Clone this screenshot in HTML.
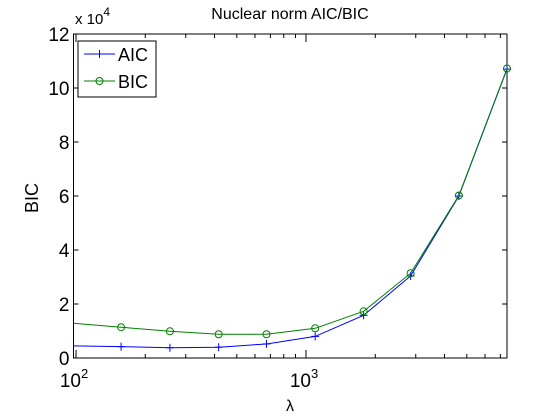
<!DOCTYPE html>
<html><head><meta charset="utf-8"><style>
body{margin:0;background:#fff;}
svg{display:block;font-family:"Liberation Sans",sans-serif;}
</style></head><body>
<svg id="chart" width="559" height="419" xmlns="http://www.w3.org/2000/svg">
<defs><clipPath id="clip"><rect x="73.5" y="20" width="450" height="340"/></clipPath></defs>
<rect width="559" height="419" fill="#fff"/>
<text x="290" y="19" font-size="16" text-anchor="middle">Nuclear norm AIC/BIC</text>
<text x="0" y="0" font-size="18" text-anchor="middle" transform="translate(38,198) rotate(-90)">BIC</text>
<text x="290" y="411" font-size="16" text-anchor="middle">λ</text>
<text x="75" y="24" font-size="15">x 10<tspan dy="-8" font-size="12">4</tspan></text>
<g id="axes"></g>
<g id="series" clip-path="url(#clip)"></g>
<g>
<rect x="78" y="41" width="78" height="56" fill="#fff" stroke="#000" stroke-width="1"/>
<line x1="84" y1="54" x2="115" y2="54" stroke="#0000ff"/>
<line x1="99.5" y1="50" x2="99.5" y2="58" stroke="#0000ff"/>
<text x="118" y="61" font-size="18">AIC</text>
<line x1="84" y1="81" x2="115" y2="81" stroke="#008000"/>
<circle cx="99.5" cy="81" r="3.5" fill="none" stroke="#008000"/>
<text x="118" y="88" font-size="18">BIC</text>
</g>
</svg>
<script>
const lambdas=[94,157,256,417,673,1096,1780,2850,4620,7480];
const aicValues=[0.45,0.42,0.38,0.40,0.52,0.80,1.58,3.04,6.0,10.7];
const bicValues=[1.30,1.14,0.99,0.88,0.88,1.10,1.73,3.14,6.02,10.72];
const yTicks=[0,2,4,6,8,10,12];
const xMajor=[100,1000];
const xMajorLabels=["10","10"];
const NS="http://www.w3.org/2000/svg";
const L=73.5,R=507,T=34,B=358;
const xmin=Math.log10(97.5),xmax=Math.log10(7480);
const xs=v=>L+(Math.log10(v)-xmin)/(xmax-xmin)*(R-L);
const ys=v=>B-v/12*(B-T);
function mk(tag,attrs,parent){const e=document.createElementNS(NS,tag);for(const k in attrs)e.setAttribute(k,attrs[k]);parent.appendChild(e);return e;}
const ax=document.getElementById('axes');
const box=mk('rect',{x:L,y:T,width:R-L,height:B-T,fill:'none',stroke:'#000'},ax);


yTicks.forEach(t=>{const y=ys(t);
 mk('line',{x1:L,x2:L+5,y1:y,y2:y,stroke:'#000'},ax);
 mk('line',{x1:R,x2:R-5,y1:y,y2:y,stroke:'#000'},ax);
 const tx=mk('text',{x:L-4,y:y+7,'font-size':19,'text-anchor':'end'},ax);tx.textContent=t;
 
 
});
for(let d=100;d<=1000;d*=10){for(let m=1;m<10;m++){const v=d*m;if(v<97||v>7480)continue;const x=xs(v);const len=(m===1)?8:4;
 mk('line',{x1:x,x2:x,y1:B,y2:B-len,stroke:'#000'},ax);
 mk('line',{x1:x,x2:x,y1:T,y2:T+len,stroke:'#000'},ax);}}
xMajor.forEach((v,i)=>{const x=xs(v);const tx=mk('text',{x:x-2,y:B+29,'font-size':19,'text-anchor':'middle'},ax);
 tx.textContent=xMajorLabels[i];
 const sp=mk('tspan',{dy:-9,'font-size':13},tx);sp.textContent=String(i+2);
 
 
});
const sg=document.getElementById('series');
function line(vals,color,name,marker){
 const pts=lambdas.map((v,i)=>xs(v)+','+ys(vals[i])).join(' ');
 const pl=mk('polyline',{points:pts,fill:'none',stroke:color,'stroke-width':1},sg);
 
 
 lambdas.forEach((v,i)=>{const x=xs(v),y=ys(vals[i]);
  if(marker==='+'){mk('line',{x1:x-4,x2:x+4,y1:y,y2:y,stroke:color},sg);mk('line',{x1:x,x2:x,y1:y-4,y2:y+4,stroke:color},sg);}
  else{const c=mk('circle',{cx:x,cy:y,r:3.5,fill:'none',stroke:color},sg);
   
   }
 });
}
line(aicValues,'#0000ff','aic','+');
line(bicValues,'#008000','bic','o');
</script>
</body></html>
